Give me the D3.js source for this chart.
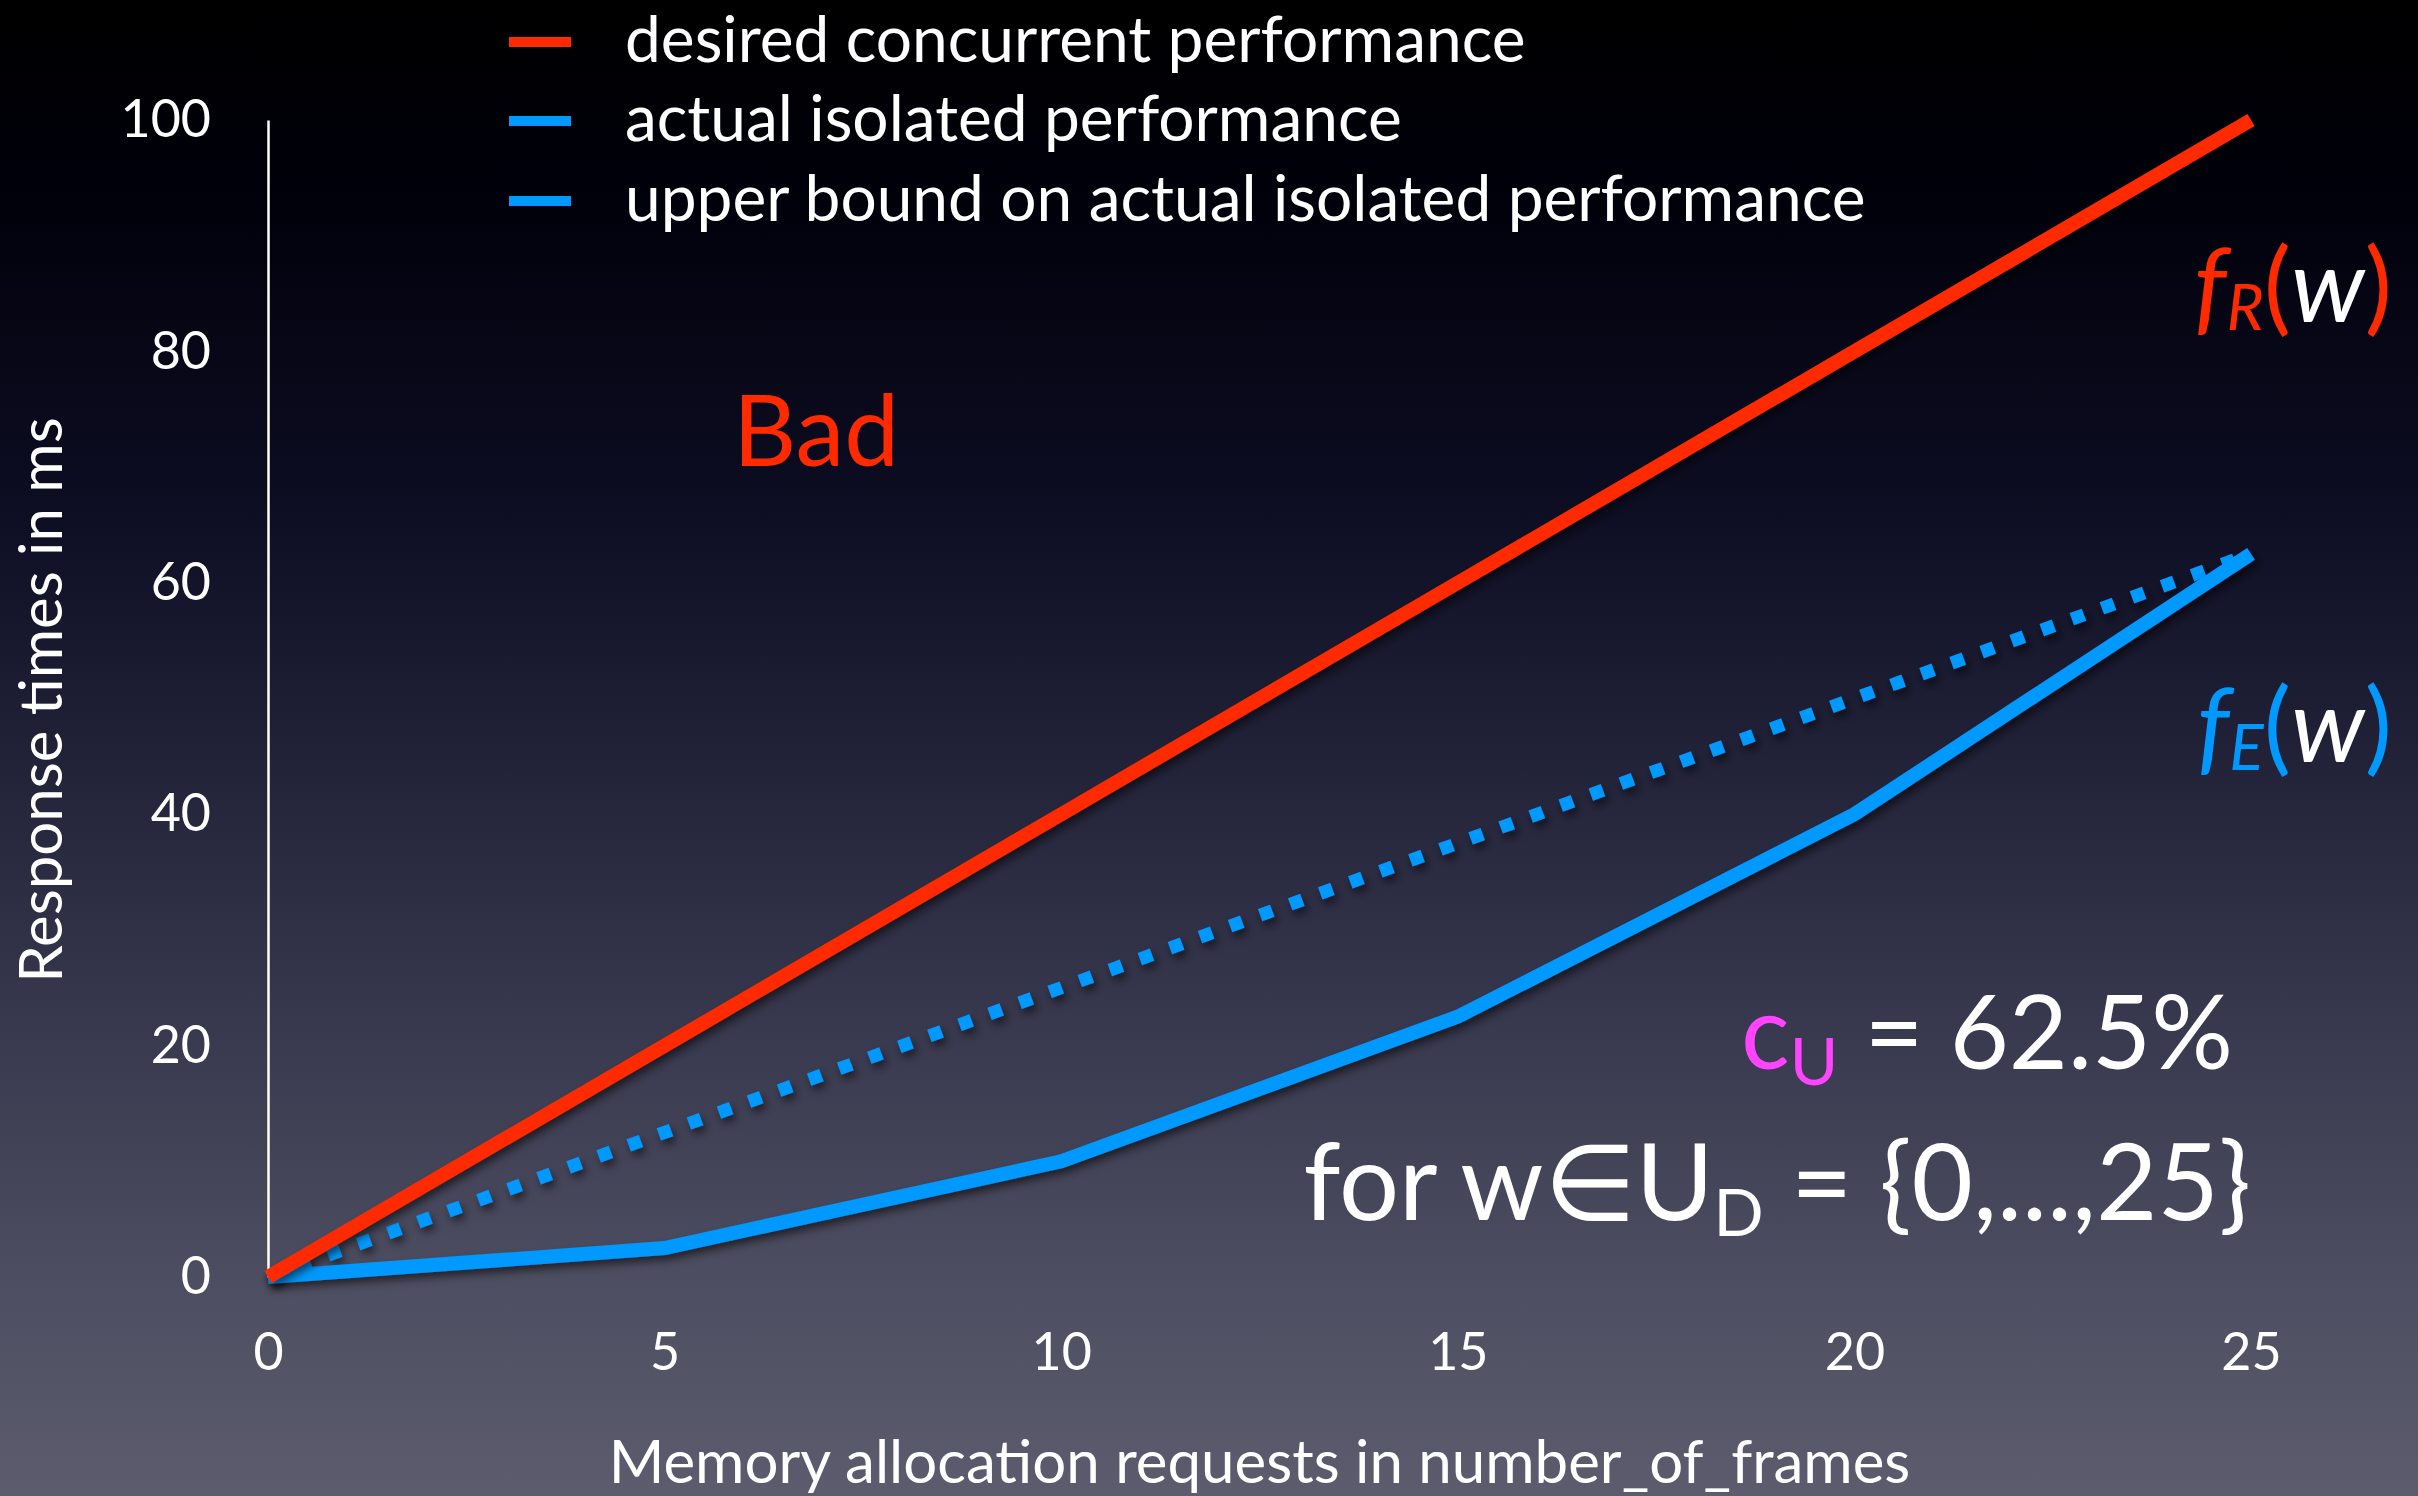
<!DOCTYPE html>
<html>
<head>
<meta charset="utf-8">
<script src="https://cdn.jsdelivr.net/npm/d3@7"></script>
<style>
  html, body { margin: 0; padding: 0; background: #000; }
  svg { display: block; }
  text { font-family: Lato, "Open Sans", sans-serif; }
</style>
</head>
<body>
<svg id="chart" width="2418" height="1496"></svg>
<script>
// ---- data ----
const wValues = [0, 5, 10, 15, 20, 25];
const desiredConcurrent = [0, 20, 40, 60, 80, 100];
const actualIsolated = [0, 2.5, 10, 22.5, 40, 62.5];
const upperBoundIsolated = [0, 12.5, 25, 37.5, 50, 62.5];
const xTickValues = [0, 5, 10, 15, 20, 25];
const yTickValues = [0, 20, 40, 60, 80, 100];
const seriesNames = ["desired concurrent performance", "actual isolated performance", "upper bound on actual isolated performance"];
const seriesColors = ["#ff2a00", "#0099ff", "#0099ff"];
const xTitle = "Memory allocation requests in number_of_frames";
const yTitle = "Response times in ms";

// ---- layout ----
const W = 2418, H = 1496;
const svg = d3.select("#chart");
const defs = svg.append("defs");

const grad = defs.append("linearGradient").attr("id", "bg").attr("x1", 0).attr("y1", 0).attr("x2", 0).attr("y2", 1);
[[0, "#000000"], [0.12, "#00000a"], [0.35, "#0e0e24"], [0.6, "#2d2d44"], [0.85, "#4d4d61"], [1, "#5c5c6e"]]
  .forEach(([o, c]) => grad.append("stop").attr("offset", o).attr("stop-color", c));
svg.append("rect").attr("width", W).attr("height", H).attr("fill", "url(#bg)");

const shadow = defs.append("filter").attr("id", "shadow").attr("x", "-10%").attr("y", "-10%").attr("width", "120%").attr("height", "120%");
shadow.append("feDropShadow").attr("dx", 3).attr("dy", 5).attr("stdDeviation", 4).attr("flood-color", "#000").attr("flood-opacity", 0.55);

const x = d3.scaleLinear().domain([0, 25]).range([268, 2251]);
const y = d3.scaleLinear().domain([0, 100]).range([1277, 120]);

// axes
const yAxis = svg.append("g").attr("transform", `translate(${x(0)},0)`)
  .call(d3.axisLeft(y).tickValues(yTickValues).tickSize(0).tickSizeOuter(0).tickPadding(57));
const xAxis = svg.append("g").attr("transform", `translate(0,${y(0)})`)
  .call(d3.axisBottom(x).tickValues(xTickValues).tickSize(0).tickSizeOuter(0).tickPadding(56));
[yAxis, xAxis].forEach(g => {
  g.select(".domain").attr("stroke", "#ffffff").attr("stroke-width", 2.5);
  g.selectAll("text").attr("fill", "#ffffff").attr("font-size", 52).style("font-family", "Lato, sans-serif");
});
xAxis.select(".domain").attr("filter", "url(#shadow)");

// axis titles
svg.append("text").attr("x", (x(0) + x(25)) / 2).attr("y", 1483)
  .attr("text-anchor", "middle").attr("fill", "#fff").attr("font-size", 60).text(xTitle);
svg.append("text").attr("transform", `translate(62,700) rotate(-90)`)
  .attr("text-anchor", "middle").attr("fill", "#fff").attr("font-size", 60).text(yTitle);

// lines
const line = d3.line().x(d => x(d[0])).y(d => y(d[1]));
const zipped = arr => wValues.map((w, i) => [w, arr[i]]);

svg.append("path").datum(zipped(upperBoundIsolated)).attr("d", line)
  .attr("fill", "none").attr("stroke", seriesColors[2]).attr("stroke-width", 13)
  .attr("stroke-dasharray", "13,19").attr("stroke-linecap", "butt").attr("filter", "url(#shadow)");
svg.append("path").datum(zipped(actualIsolated)).attr("d", line)
  .attr("fill", "none").attr("stroke", seriesColors[1]).attr("stroke-width", 14)
  .attr("stroke-linejoin", "miter").attr("filter", "url(#shadow)");
svg.append("path").datum(zipped(desiredConcurrent)).attr("d", line)
  .attr("fill", "none").attr("stroke", seriesColors[0]).attr("stroke-width", 14)
  .attr("filter", "url(#shadow)");

// legend
const legendY = [42, 121, 201];
seriesNames.forEach((name, i) => {
  svg.append("rect").attr("x", 509).attr("y", legendY[i] - 5).attr("width", 62).attr("height", 10)
    .attr("fill", seriesColors[i]);
  svg.append("text").attr("x", 625).attr("y", legendY[i]).attr("dy", "0.32em")
    .attr("fill", "#fff").attr("font-size", 64).text(name);
});

// annotations
svg.append("text").attr("x", 733).attr("y", 466).attr("fill", "#ff2a00").attr("font-size", 98).text("Bad");

function fLabel(px, py, color, sub) {
  const t = svg.append("text").attr("x", px).attr("y", py).attr("text-anchor", "end").attr("font-size", 102);
  t.append("tspan").attr("fill", color).attr("font-style", "italic").text("f");
  t.append("tspan").attr("fill", color).attr("font-style", "italic").attr("font-size", 64).attr("dy", 8).text(sub);
  t.append("tspan").attr("fill", color).attr("dy", -8).text("(");
  t.append("tspan").attr("fill", "#fff").attr("font-style", "italic").text("w");
  t.append("tspan").attr("fill", color).text(")");
}
fLabel(2392, 322, "#ff2a00", "R");
fLabel(2392, 762, "#0099ff", "E");

const cu = svg.append("text").attr("x", 2233).attr("y", 1069).attr("text-anchor", "end").attr("font-size", 102).attr("fill", "#fff");
cu.append("tspan").attr("fill", "#ff44ff").text("c");
cu.append("tspan").attr("fill", "#ff44ff").attr("font-size", 66).attr("dy", 16).text("U");
cu.append("tspan").attr("dy", -16).text(" = 62.5%");

const forT = svg.append("text").attr("x", 2251).attr("y", 1220).attr("text-anchor", "end").attr("font-size", 106).attr("fill", "#fff");
forT.append("tspan").text("for w∈U");
forT.append("tspan").attr("font-size", 66).attr("dy", 16).text("D");
forT.append("tspan").attr("dy", -16).text(" = {0,...,25}");
</script>
</body>
</html>
